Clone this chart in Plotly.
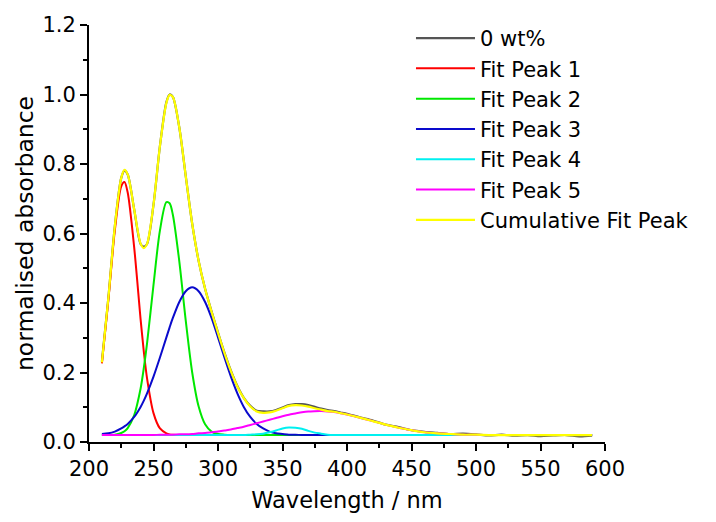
import plotly.graph_objects as go

# Wavelength grid (nm)
wavelength = [210, 215, 220, 225, 227.5, 230, 235, 240, 242.5, 245, 250, 255, 260, 262.5, 265,
              270, 275, 280, 285, 290, 295, 300, 305, 310, 315, 320, 325, 330, 335, 340, 345,
              350, 355, 360, 365, 370, 375, 380, 385, 390, 395, 400,
              410, 420, 430, 440, 450, 460, 470, 480, 490, 500, 510, 520, 530, 540, 550, 560,
              570, 580, 590]

raw_0wt = [0.231, 0.414, 0.620, 0.760, 0.781, 0.770, 0.670, 0.570, 0.562, 0.570, 0.683, 0.852, 0.978, 1.000, 0.993,
           0.905, 0.765, 0.628, 0.521, 0.441, 0.376, 0.315, 0.257, 0.205, 0.161, 0.127, 0.104, 0.090, 0.088, 0.088, 0.092,
           0.099, 0.106, 0.109, 0.109, 0.106, 0.101, 0.096, 0.092, 0.089, 0.085, 0.081,
           0.071, 0.062, 0.050, 0.043, 0.034, 0.029, 0.026, 0.023, 0.024, 0.022, 0.019, 0.021, 0.018, 0.020, 0.017, 0.019,
           0.020, 0.016, 0.018]

peak1 = [0.226, 0.408, 0.608, 0.736, 0.748, 0.718, 0.561, 0.353, 0.260, 0.183, 0.083, 0.039, 0.025, 0.022, 0.021,
         0.020, 0.020, 0.020, 0.020, 0.020, 0.020, 0.020, 0.020, 0.020, 0.020, 0.020, 0.020, 0.020, 0.020, 0.020, 0.020,
         0.020, 0.020, 0.020, 0.020, 0.020, 0.020, 0.020, 0.020, 0.020, 0.020, 0.020,
         0.020, 0.020, 0.020, 0.020, 0.020, 0.020, 0.020, 0.020, 0.020, 0.020, 0.020, 0.020, 0.020, 0.020, 0.020, 0.020,
         0.020, 0.020, 0.020]

peak2 = [0.020, 0.020, 0.021, 0.026, 0.031, 0.040, 0.077, 0.154, 0.213, 0.284, 0.452, 0.609, 0.690, 0.687, 0.654,
         0.520, 0.349, 0.200, 0.102, 0.051, 0.030, 0.023, 0.021, 0.020, 0.020, 0.020, 0.020, 0.020, 0.020, 0.020, 0.020,
         0.020, 0.020, 0.020, 0.020, 0.020, 0.020, 0.020, 0.020, 0.020, 0.020, 0.020,
         0.020, 0.020, 0.020, 0.020, 0.020, 0.020, 0.020, 0.020, 0.020, 0.020, 0.020, 0.020, 0.020, 0.020, 0.020, 0.020,
         0.020, 0.020, 0.020]

peak3 = [0.023, 0.025, 0.030, 0.039, 0.045, 0.052, 0.072, 0.101, 0.119, 0.140, 0.188, 0.243, 0.301, 0.330, 0.357,
         0.403, 0.434, 0.445, 0.434, 0.403, 0.357, 0.301, 0.243, 0.188, 0.140, 0.101, 0.072, 0.052, 0.039, 0.030, 0.025,
         0.023, 0.021, 0.021, 0.020, 0.020, 0.020, 0.020, 0.020, 0.020, 0.020, 0.020,
         0.020, 0.020, 0.020, 0.020, 0.020, 0.020, 0.020, 0.020, 0.020, 0.020, 0.020, 0.020, 0.020, 0.020, 0.020, 0.020,
         0.020, 0.020, 0.020]

peak4 = [0.020, 0.020, 0.020, 0.020, 0.020, 0.020, 0.020, 0.020, 0.020, 0.020, 0.020, 0.020, 0.020, 0.020, 0.020,
         0.020, 0.020, 0.020, 0.020, 0.020, 0.020, 0.020, 0.020, 0.020, 0.020, 0.020, 0.021, 0.022, 0.024, 0.028, 0.033,
         0.039, 0.042, 0.041, 0.038, 0.032, 0.027, 0.024, 0.021, 0.020, 0.020, 0.020,
         0.020, 0.020, 0.020, 0.020, 0.020, 0.020, 0.020, 0.020, 0.020, 0.020, 0.020, 0.020, 0.020, 0.020, 0.020, 0.020,
         0.020, 0.020, 0.020]

peak5 = [0.020, 0.020, 0.020, 0.020, 0.020, 0.020, 0.020, 0.020, 0.020, 0.020, 0.020, 0.021, 0.021, 0.021, 0.021,
         0.022, 0.022, 0.023, 0.025, 0.026, 0.028, 0.030, 0.033, 0.036, 0.040, 0.044, 0.049, 0.054, 0.059, 0.064, 0.069,
         0.074, 0.0785, 0.082, 0.0855, 0.088, 0.0888, 0.089, 0.088, 0.086, 0.083, 0.079,
         0.070, 0.060, 0.050, 0.041, 0.034, 0.028, 0.025, 0.023, 0.021, 0.021, 0.020, 0.020, 0.020, 0.020, 0.020, 0.020,
         0.020, 0.020, 0.020]

cumulative = [0.229, 0.414, 0.620, 0.760, 0.783, 0.770, 0.670, 0.571, 0.558, 0.570, 0.683, 0.852, 0.976, 0.999, 0.993,
              0.905, 0.765, 0.628, 0.521, 0.441, 0.375, 0.314, 0.256, 0.204, 0.160, 0.126, 0.102, 0.088, 0.084, 0.085, 0.090,
              0.097, 0.104, 0.106, 0.105, 0.102, 0.097, 0.093, 0.089, 0.087, 0.083, 0.079,
              0.070, 0.060, 0.050, 0.041, 0.034, 0.028, 0.025, 0.023, 0.021, 0.021, 0.020, 0.020, 0.020, 0.020, 0.020, 0.020,
              0.020, 0.020, 0.020]

series_names = ["0 wt%", "Fit Peak 1", "Fit Peak 2", "Fit Peak 3", "Fit Peak 4", "Fit Peak 5", "Cumulative Fit Peak"]
series_values = [raw_0wt, peak1, peak2, peak3, peak4, peak5, cumulative]
series_colors = ["#555555", "#FF0000", "#00E800", "#0A0ACC", "#00F0F0", "#FF00FF", "#FFFF00"]
series_widths = [2.2, 2, 2, 2, 2, 2, 2.2]

FONT = "DejaVu Sans"

fig = go.Figure()
for name, vals, col, w in zip(series_names, series_values, series_colors, series_widths):
    fig.add_trace(go.Scatter(
        x=wavelength, y=vals, mode="lines", name=name,
        line=dict(color=col, width=w, shape="spline", smoothing=0.8),
    ))

axis_common = dict(
    showline=True, linecolor="black", linewidth=2, mirror=False,
    showgrid=False, zeroline=False,
    ticks="outside", ticklen=7, tickwidth=2, tickcolor="black",
    tickfont=dict(family=FONT, size=21, color="black"),
)

fig.update_layout(
    width=716, height=522,
    margin=dict(l=89, r=111, t=25, b=80),
    paper_bgcolor="white", plot_bgcolor="white",
    font=dict(family=FONT, color="black"),
    xaxis=dict(
        range=[200, 600], dtick=50, tick0=200,
        minor=dict(dtick=25, ticklen=4, tickwidth=2, tickcolor="black", ticks="outside"),
        title=dict(text="Wavelength / nm", font=dict(family=FONT, size=22.5, color="black"), standoff=12),
        **axis_common,
    ),
    yaxis=dict(
        range=[0, 1.2], dtick=0.2, tick0=0, tickformat=".1f",
        minor=dict(dtick=0.1, ticklen=4, tickwidth=2, tickcolor="black", ticks="outside"),
        title=dict(text="normalised absorbance", font=dict(family=FONT, size=23.5, color="black"), standoff=2),
        **axis_common,
    ),
    legend=dict(
        x=0.624, y=1.017, xanchor="left", yanchor="top",
        bgcolor="rgba(0,0,0,0)", borderwidth=0,
        font=dict(family=FONT, size=21, color="black"),
        itemwidth=59, tracegroupgap=0,
    ),
    showlegend=True,
)

fig.write_html("out.html")
